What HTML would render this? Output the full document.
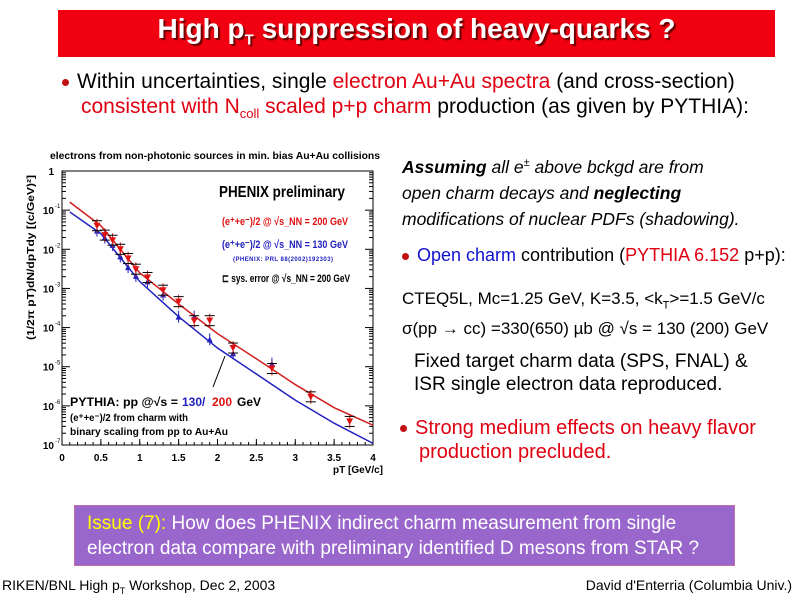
<!DOCTYPE html>
<html><head><meta charset="utf-8"><style>
body{margin:0;width:800px;height:600px;background:#fff;position:relative;overflow:hidden;font-family:"Liberation Sans",sans-serif}
.a{position:absolute;white-space:nowrap}
.r{color:#e00010}.b{color:#1010d0}
.dot{display:inline-block;width:7px;height:7px;border-radius:50%;background:#c01010;margin-right:8px;vertical-align:middle}
</style></head><body>
<div class="a" style="left:58px;top:10px;width:717px;height:47px;background:#f00010"></div>
<div class="a" style="left:58px;top:13px;width:717px;text-align:center;color:#fff;font-weight:bold;font-size:28px;text-shadow:2px 2px 1px #600">High p<sub style="font-size:15px">T</sub> suppression of heavy-quarks ?</div>
<div class="a" style="left:62px;top:69px;font-size:21px;line-height:25px"><span class="dot"></span>Within uncertainties, single <span class="r">electron Au+Au spectra</span> (and cross-section)<br><span style="margin-left:19px" class="r">consistent with N<sub style="font-size:13px">coll</sub> scaled p+p charm</span> production (as given by PYTHIA):</div>

<svg class="a" style="left:0;top:140px" width="400" height="360"><g id="g"></g></svg>

<div class="a" style="left:402px;top:150px;font-size:17.5px;line-height:26px;font-style:italic"><b>Assuming</b> all e<sup style="font-size:11px">±</sup> above bckgd are from<br>open charm decays and <b>neglecting</b><br>modifications of nuclear PDFs (shadowing).</div>
<div class="a" style="left:402px;top:245px;font-size:18px"><span class="dot"></span><span class="b">Open charm</span> contribution (<span class="r">PYTHIA 6.152</span> p+p):</div>
<div class="a" style="left:402px;top:287px;font-size:17px;line-height:24px">CTEQ5L, Mc=1.25 GeV, K=3.5, &lt;k<sub style="font-size:11px">T</sub>&gt;=1.5 GeV/c<br>σ(pp → cc) =330(650) µb @ √s = 130 (200) GeV</div>
<div class="a" style="left:414px;top:350px;font-size:19px;line-height:23px">Fixed target charm data (SPS, FNAL) &amp;<br>ISR single electron data reproduced.</div>
<div class="a r" style="left:400px;top:416px;font-size:20px;line-height:24px"><span class="dot"></span>Strong medium effects on heavy flavor<br><span style="margin-left:19px">production precluded.</span></div>
<div class="a" style="left:74px;top:505px;width:661px;height:61px;background:#9966cc;border:1px solid #c070a0;box-sizing:border-box;color:#fff;font-size:19px;line-height:25px;padding:5px 12px"><span style="color:#ff0">Issue (7):</span> How does PHENIX indirect charm measurement from single<br>electron data compare with preliminary identified D mesons from STAR ?</div>
<div class="a" style="left:2px;top:577px;font-size:14px">RIKEN/BNL High p<sub style="font-size:9px">T</sub> Workshop, Dec 2, 2003</div>
<div class="a" style="right:8px;top:577px;font-size:14px">David d'Enterria (Columbia Univ.)</div>

<script>
const redX=[0.45,0.55,0.65,0.75,0.85,0.95,1.1,1.3,1.5,1.7,1.9,2.2,2.7,3.2,3.7];
const redY=[0.04,0.023,0.017,0.01,5.8e-3,3.1e-3,1.9e-3,9e-4,4.6e-4,1.5e-4,1.5e-4,3e-5,9e-6,1.7e-6,4e-7];
const blueX=[0.45,0.55,0.65,0.75,0.85,0.95,1.1,1.3,1.5,1.7,1.9,2.2,2.7];
const blueY=[0.03,0.02,0.013,6.6e-3,3.5e-3,2.1e-3,1.5e-3,7e-4,1.9e-4,1.9e-4,5e-5,2.2e-5,1.2e-5];
const curveX=[0.1,0.5,1,1.5,2,2.5,3,3.5,4];
const redCurve=[0.16,0.04,2.5e-3,4e-4,7e-5,1.6e-5,3.5e-6,9e-7,3.2e-7];
const blueCurve=[0.09,0.025,1.5e-3,1.9e-4,3e-5,6.5e-6,1.4e-6,3.6e-7,1.1e-7];
const xTicks=[0,0.5,1,1.5,2,2.5,3,3.5,4];
const yTicks=[0,-1,-2,-3,-4,-5,-6,-7];
const X0=62,X1=373,Y0=31,Y1=305;
const xs=v=>X0+(X1-X0)*v/4;
const ys=v=>Y0+(Y1-Y0)*(-Math.log10(v))/7;
const g=document.getElementById('g');const NS='http://www.w3.org/2000/svg';
function el(t,a,txt){const e=document.createElementNS(NS,t);for(const k in a)e.setAttribute(k,a[k]);if(txt!==undefined)e.textContent=txt;g.appendChild(e);return e;}
let e=el('rect',{x:X0,y:Y0,width:X1-X0,height:Y1-Y0,fill:'none',stroke:'#000'});

xTicks.forEach(t=>{const l=el('text',{x:xs(t),y:Y1+16,'font-size':10,'font-weight':'bold','text-anchor':'middle'},String(t));

el('line',{x1:xs(t),x2:xs(t),y1:Y1,y2:Y1-6,stroke:'#000'});});
for(let i=0;i<40;i++){el('line',{x1:xs(i*0.1),x2:xs(i*0.1),y1:Y1,y2:Y1-3,stroke:'#000'});}
yTicks.forEach(p=>{const y=ys(Math.pow(10,p));const l=el('text',{x:X0-8,y:y+4,'font-size':10,'font-weight':'bold','text-anchor':'end'},p===0?'1':'10');

if(p!==0)el('text',{x:X0-7,y:y-2,'font-size':6},String(p));
el('line',{x1:X0,x2:X0+8,y1:y,y2:y,stroke:'#000'});el('line',{x1:X1,x2:X1-8,y1:y,y2:y,stroke:'#000'});
if(p>-7)for(let m=2;m<10;m++){const yy=ys(m*Math.pow(10,p-1));el('line',{x1:X0,x2:X0+4,y1:yy,y2:yy,stroke:'#000'});el('line',{x1:X1,x2:X1-4,y1:yy,y2:yy,stroke:'#000'});}});
function curve(xa,ya,c,n){const d=xa.map((x,i)=>(i?'L':'M')+xs(x)+','+ys(ya[i])).join(' ');const p=el('path',{d:d,fill:'none',stroke:c,'stroke-width':1.5});
}
curve(curveX,blueCurve,'#2020c0','pythia-130-curve');curve(curveX,redCurve,'#d02020','pythia-200-curve');
blueX.forEach((x,i)=>{const cx=xs(x),cy=ys(blueY[i]);el('line',{x1:cx,x2:cx,y1:cy-6,y2:cy+6,stroke:'#2020c0'});
const m=el('path',{d:`M${cx-3},${cy+3}L${cx+3},${cy+3}L${cx},${cy-3}Z`,fill:'#2020c0'});
});
redX.forEach((x,i)=>{const cx=xs(x),cy=ys(redY[i]);el('line',{x1:cx,x2:cx,y1:cy-7,y2:cy+7,stroke:'#d02020'});
el('line',{x1:cx-5,x2:cx+5,y1:cy-5,y2:cy-5,stroke:'#000'});el('line',{x1:cx-5,x2:cx+5,y1:cy+5,y2:cy+5,stroke:'#000'});
const m=el('path',{d:`M${cx-3.5},${cy-3}L${cx+3.5},${cy-3}L${cx},${cy+3.5}Z`,fill:'#e01010'});
});
function T(x,y,s,t,a){const o=Object.assign({x:x,y:y,'font-size':s,'font-weight':'bold'},a||{});const e=el('text',o,t);return e;}
e=T(50,19,10,'electrons from non-photonic sources in min. bias Au+Au collisions',{textLength:330,lengthAdjust:'spacingAndGlyphs'});
e=T(219,57,16,'PHENIX preliminary',{textLength:126,lengthAdjust:'spacingAndGlyphs'});
e=T(222,85,11,'(e⁺+e⁻)/2 @ √s_NN = 200 GeV',{fill:'#e01010',textLength:126,lengthAdjust:'spacingAndGlyphs'});
e=T(222,108,11,'(e⁺+e⁻)/2 @ √s_NN = 130 GeV',{fill:'#2020c0',textLength:126,lengthAdjust:'spacingAndGlyphs'});
T(233,121,6,'(PHENIX: PRL 88(2002)192303)',{fill:'#2020c0',textLength:100});
e=T(222,142,11,'⊏ sys. error @ √s_NN = 200 GeV',{textLength:128,lengthAdjust:'spacingAndGlyphs'});
e=T(70,266,12,'PYTHIA: pp @√s = ',{textLength:108,lengthAdjust:'spacingAndGlyphs'});
T(182,266,12,'130/',{fill:'#2020c0'});T(212,266,12,'200',{fill:'#e01010'});T(237,266,12,'GeV');
T(70,281,10,'(e⁺+e⁻)/2 from charm with',{textLength:118,lengthAdjust:'spacingAndGlyphs'});T(70,295,10,'binary scaling from pp to Au+Au',{textLength:158,lengthAdjust:'spacingAndGlyphs'});
el('line',{x1:213,x2:225,y1:247,y2:216,stroke:'#000'});
e=T(333,333,10,'pT [GeV/c]');
e=T(0,0,10,'(1/2π pT)dN/dpTdy [(c/GeV)²]',{transform:'translate(34,200) rotate(-90)',textLength:165,lengthAdjust:'spacingAndGlyphs'});
</script>
</body></html>
